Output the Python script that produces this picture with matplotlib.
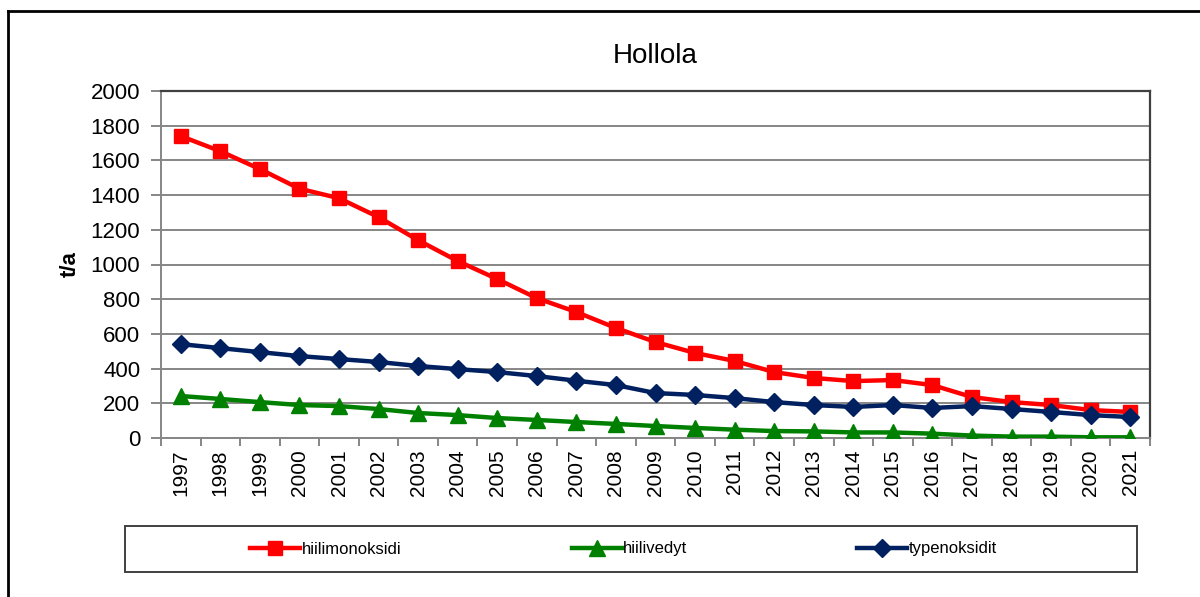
import matplotlib
matplotlib.use("Agg")
import matplotlib.pyplot as plt
from matplotlib.lines import Line2D
from matplotlib.patches import Rectangle
from matplotlib.ticker import MultipleLocator, FixedLocator

plt.rcParams["font.family"] = ["Liberation Sans", "DejaVu Sans"]

years = [str(y) for y in range(1997, 2022)]
hiilimonoksidi = [1740, 1653, 1550, 1437, 1382, 1273, 1140, 1020, 916, 806,
                  726, 634, 553, 490, 444, 380, 346, 328, 334, 305,
                  236, 207, 190, 161, 150]
hiilivedyt = [242, 225, 207, 190, 184, 167, 144, 132, 115, 104,
              92, 81, 69, 58, 48, 40, 38, 32, 32, 25,
              14, 8, 8, 4, 4]
typenoksidit = [541, 518, 495, 472, 455, 438, 415, 397, 380, 357,
                330, 305, 259, 248, 230, 207, 190, 179, 190, 173,
                184, 167, 150, 132, 121]

series = [
    ("hiilimonoksidi", hiilimonoksidi, "#ff0000", "s", 10),
    ("hiilivedyt", hiilivedyt, "#008000", "^", 11),
    ("typenoksidit", typenoksidit, "#002060", "D", 9.5),
]

W, H = 1200, 597
fig = plt.figure(figsize=(12, 5.97), dpi=100)
ax = fig.add_axes([161 / W, 1 - 438 / H, (1150 - 161) / W, (438 - 91) / H])

x = range(len(years))
handles = []
for name, vals, color, marker, ms in series:
    h, = ax.plot(x, vals, color=color, marker=marker, markersize=ms,
                 linewidth=3.2, label=name, zorder=3)
    handles.append(h)

ax.set_xlim(-0.5, len(years) - 0.5)
ax.set_ylim(0, 2000)
ax.yaxis.set_major_locator(MultipleLocator(200))
ax.grid(axis="y", color="#868686", linewidth=1.4)
ax.set_axisbelow(True)

ax.set_xticks(list(x))
ax.set_xticklabels(years, rotation=90, fontsize=15)
ax.xaxis.set_minor_locator(FixedLocator([i - 0.5 for i in range(len(years) + 1)]))
ax.tick_params(axis="x", which="major", length=0, pad=8)
ax.tick_params(axis="x", which="minor", length=6, width=1.4, color="#868686")
ax.tick_params(axis="y", length=7, width=1.4, color="#868686", labelsize=16, pad=8)

for side in ("left", "bottom"):
    ax.spines[side].set_color("#868686")
    ax.spines[side].set_linewidth(1.4)
for side in ("top", "right"):
    ax.spines[side].set_color("#404040")
    ax.spines[side].set_linewidth(1.6)

ax.set_ylabel("t/a", fontsize=16, fontweight="bold", labelpad=7)
ax.set_title("Hollola", fontsize=20, pad=20)

# legend box
box = (125 / W, 1 - 572 / H, (1137 - 125) / W, (572 - 526) / H)
fig.add_artist(Rectangle(box[:2], box[2], box[3], transform=fig.transFigure,
                         facecolor="none", edgecolor="#404040", linewidth=1.4))
fig.legend(handles=handles, loc="center", ncol=3,
           bbox_to_anchor=(box[0] + box[2] / 2 - 0.006, box[1] + box[3] / 2),
           fontsize=12, frameon=False, handlelength=3, handletextpad=0.1,
           columnspacing=10.2)

# outer chart border (top and left visible)
fig.add_artist(Line2D([8 / W, 1.0], [1 - 11 / H, 1 - 11 / H],
                      color="black", linewidth=2, transform=fig.transFigure))
fig.add_artist(Line2D([8 / W, 8 / W], [0, 1 - 11 / H],
                      color="black", linewidth=2, transform=fig.transFigure))

fig.savefig("out.png", dpi=100)
